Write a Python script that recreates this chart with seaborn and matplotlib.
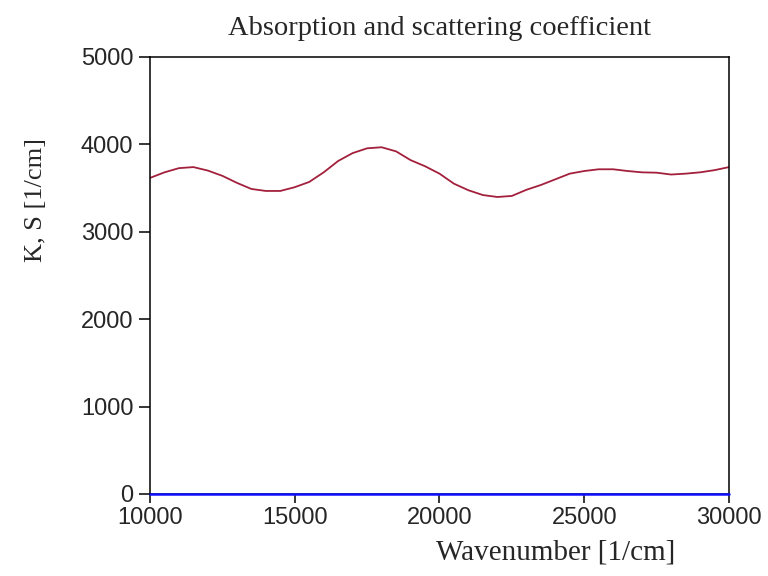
import numpy as np
import pandas as pd
import matplotlib.pyplot as plt
import seaborn as sns

# Values
wavenumber = [10000, 10500, 11000, 11500, 12000, 12500, 13000, 13500, 14000, 14500,
              15000, 15500, 16000, 16500, 17000, 17500, 18000, 18500, 19000, 19500,
              20000, 20500, 21000, 21500, 22000, 22500, 23000, 23500, 24000, 24500,
              25000, 25500, 26000, 26500, 27000, 27500, 28000, 28500, 29000, 29500, 30000]
coef_k = [3616, 3680, 3728, 3740, 3700, 3640, 3560, 3490, 3467, 3467,
          3510, 3570, 3680, 3810, 3900, 3955, 3967, 3920, 3820, 3750,
          3665, 3550, 3475, 3420, 3398, 3410, 3480, 3535, 3600, 3665,
          3695, 3715, 3715, 3695, 3680, 3676, 3655, 3665, 3680, 3705, 3740]
coef_s = [0] * len(wavenumber)

x_ticks = [10000, 15000, 20000, 25000, 30000]
y_ticks = [0, 1000, 2000, 3000, 4000, 5000]

df = pd.DataFrame({'Wavenumber': wavenumber, 'K': coef_k, 'S': coef_s})

sns.set_style("ticks")
plt.rcParams['font.family'] = ['Liberation Serif', 'DejaVu Serif']

fig = plt.figure(figsize=(7.68, 5.76), dpi=100)
ax = fig.add_axes([0.1953, 0.1424, 0.7539, 0.7587])

sns.lineplot(data=df, x='Wavenumber', y='K', ax=ax, color='#a3203c', linewidth=1.3)
sns.lineplot(data=df, x='Wavenumber', y='S', ax=ax, color='#1010ff', linewidth=1.8)
ax.lines[-1].set_clip_on(False)
ax.lines[-1].set_zorder(5)

ax.set_xlim(10000, 30000)
ax.set_ylim(0, 5000)
ax.set_xticks(x_ticks)
ax.set_yticks(y_ticks)
ax.set_xticklabels([str(v) for v in x_ticks], family=['Liberation Sans', 'DejaVu Sans'], fontsize=17)
ax.set_yticklabels([str(v) for v in y_ticks], family=['Liberation Sans', 'DejaVu Sans'], fontsize=17)
ax.tick_params(axis='y', direction='out', length=8, width=1.1, color='black', pad=4)
ax.tick_params(axis='x', direction='out', length=6.5, width=1.1, color='black', pad=3)

for side in ['left', 'right', 'top', 'bottom']:
    ax.spines[side].set_visible(True)
    ax.spines[side].set_color('black')
    ax.spines[side].set_linewidth(1.1)

ax.set_title('Absorption and scattering coefficient', fontsize=20.5, pad=16)
ax.set_xlabel('Wavenumber [1/cm]', fontsize=21)
ax.set_ylabel('K, S [1/cm]', fontsize=19)
ax.xaxis.set_label_coords(0.701, -0.105)
ax.yaxis.set_label_coords(-0.178, 0.673)

fig.savefig('out.png', dpi=100)
